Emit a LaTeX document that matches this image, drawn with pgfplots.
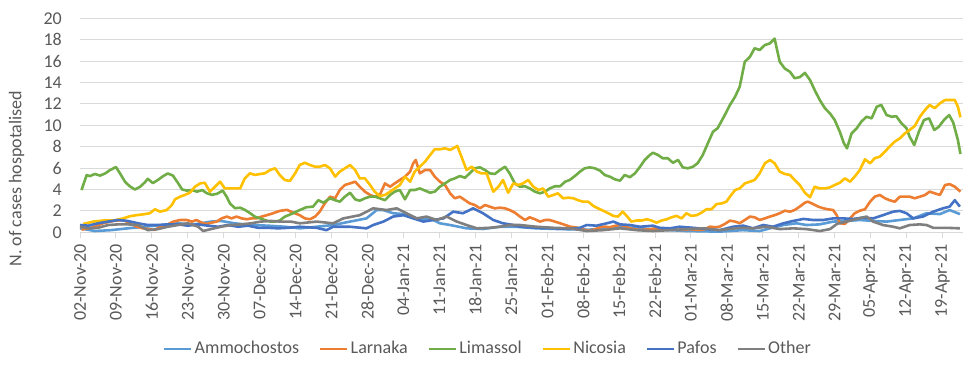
\documentclass[border=0pt]{standalone}
\usepackage{fontspec}
\setmainfont{Carlito}
\usepackage{pgfplots}
\pgfplotsset{compat=1.18}
\definecolor{cAmm}{HTML}{5B9BD5}
\definecolor{cLar}{HTML}{ED7D31}
\definecolor{cLim}{HTML}{70AD47}
\definecolor{cNic}{HTML}{FFC000}
\definecolor{cPaf}{HTML}{4472C4}
\definecolor{cOth}{HTML}{7F7F7F}
\definecolor{cGrid}{HTML}{D9D9D9}
\definecolor{cTxt}{HTML}{595959}
\newcommand{\cf}{\fontsize{18}{21.6}\selectfont}
\begin{document}
\cf
\begin{tikzpicture}
\useasboundingbox (-80pt,-139.7pt) rectangle (897pt,232.3pt);
\begin{axis}[
  at={(0pt,0pt)}, anchor=south west,
  scale only axis, width=883pt, height=214pt,
  xmin=0, xmax=172, ymin=0, ymax=20,
  axis x line*=bottom, axis y line*=left,
  y axis line style={draw=none},
  x axis line style={draw=cGrid, line width=0.9pt},
  ytick={0,2,...,20},
  ymajorgrids, grid style={cGrid, line width=0.9pt},
  tick align=outside, major tick length=6pt,
  ytick style={draw=none},
  xtick style={draw=cGrid, line width=0.9pt},
  xtick={0,7,...,168},
  xticklabels={02-Nov-20,09-Nov-20,16-Nov-20,23-Nov-20,30-Nov-20,07-Dec-20,14-Dec-20,21-Dec-20,28-Dec-20,04-Jan-21,11-Jan-21,18-Jan-21,25-Jan-21,01-Feb-21,08-Feb-21,15-Feb-21,22-Feb-21,01-Mar-21,08-Mar-21,15-Mar-21,22-Mar-21,29-Mar-21,05-Apr-21,12-Apr-21,19-Apr-21},
  xticklabel style={rotate=90, anchor=east, font=\cf, text=cTxt},
  yticklabel style={font=\cf, text=cTxt, xshift=-6pt},
  /pgf/number format/assume math mode=true,
  ylabel={N. of cases hospotalised},
  ylabel style={at={(axis description cs:-0.0717,0.251)}, anchor=center, font=\cf, text=cTxt},
  legend columns=6,
  legend style={at={(axis description cs:0.462,-0.545)}, anchor=center, draw=none, fill=none,
    font=\cf, text=cTxt,
    /tikz/every even column/.append style={column sep=18pt},
    nodes={inner sep=2pt}},
  legend image code/.code={\draw[#1, line width=2.6pt] (0pt,0pt) -- (27pt,0pt);},
  every axis plot/.append style={line width=2.6pt, line join=round, mark=none},
]
% Ammochostos
\addplot[cAmm] coordinates {
(0,0.37)(2.9,0.12)(6.0,0.2)(9.3,0.37)(12.6,0.52)(15.8,0.68)(19.1,0.84)(22.3,0.74)(25.5,1.0)(27.5,1.06)(30.1,0.84)(33.3,0.68)(36.6,0.62)(39.9,0.52)(42.8,0.37)(46.1,0.52)(49.3,0.68)(52.6,1.0)(55.8,1.3)(57.8,2.08)(59.1,2.08)(61.0,1.78)(63.0,1.7)(65.6,1.3)(68.8,1.15)(70.1,0.84)(72.1,0.68)(75.3,0.37)(78.5,0.31)(81.8,0.52)(85.0,0.52)(88.9,0.37)(93.5,0.3)(99.3,0.25)(105.2,0.5)(111.0,0.3)(118.1,0.12)(124.6,0.06)(129.1,0.2)(132.4,0.12)(134.4,0.37)(137.0,0.68)(139.6,0.84)(141.5,0.68)(144.1,0.74)(146.7,1.0)(149.3,1.06)(151.9,1.15)(154.5,1.06)(157.1,1.0)(159.7,1.15)(162.3,1.3)(164.9,1.78)(167.5,1.7)(169.4,2.08)(171.4,1.7)
};
\addlegendentry{Ammochostos}
% Larnaka
\addplot[cLar] coordinates {
(0.3,0.25)(2.6,0.47)(4.5,0.85)(6.5,1.06)(8.4,1.15)(9.7,0.85)(11.0,0.53)(12.3,0.37)(13.6,0.28)(14.6,0.22)(15.6,0.53)(16.9,0.69)(18.2,1.0)(19.5,1.15)(20.8,1.15)(21.8,1.0)(22.7,1.15)(23.7,0.9)(24.7,0.78)(25.6,0.9)(26.6,1.0)(27.6,1.3)(28.6,1.47)(29.5,1.3)(30.5,1.47)(31.5,1.3)(32.5,1.22)(33.4,1.3)(34.4,1.3)(35.4,1.47)(36.4,1.6)(37.6,1.78)(38.9,2.0)(40.3,2.1)(41.5,1.84)(42.8,1.6)(43.8,1.3)(44.8,1.22)(45.8,1.47)(46.7,1.93)(47.7,2.71)(48.7,3.33)(49.7,3.18)(50.6,3.95)(51.6,4.42)(52.6,4.57)(53.6,4.73)(54.5,4.26)(55.5,3.8)(56.5,3.49)(57.4,3.33)(58.4,3.49)(59.4,4.57)(60.4,4.26)(61.3,4.57)(62.3,4.89)(63.3,5.2)(64.3,5.67)(64.9,6.45)(65.4,6.76)(66.2,5.51)(67.2,5.82)(68.2,5.82)(69.1,5.2)(70.1,4.73)(71.1,4.42)(72.1,3.64)(73.0,3.18)(74.0,3.33)(75.0,3.0)(75.9,2.71)(76.9,2.55)(77.9,2.24)(78.9,2.55)(79.8,2.4)(80.8,2.24)(81.8,2.3)(82.8,2.24)(83.7,2.08)(84.7,1.84)(85.7,1.47)(86.7,1.15)(87.6,1.4)(88.6,1.22)(89.6,1.0)(90.6,1.15)(91.5,1.15)(92.5,1.0)(93.5,0.85)(94.5,0.69)(95.4,0.53)(96.4,0.47)(97.4,0.37)(98.3,0.22)(99.3,0.15)(100.3,0.28)(101.3,0.47)(102.2,0.53)(103.2,0.47)(104.2,0.6)(105.2,0.69)(106.1,0.6)(107.1,0.37)(108.1,0.28)(109.1,0.22)(111.0,0.28)(112.0,0.37)(112.9,0.28)(114.9,0.28)(116.8,0.22)(118.8,0.28)(120.7,0.22)(121.7,0.28)(122.7,0.53)(123.7,0.47)(124.6,0.53)(125.6,0.78)(126.6,1.09)(127.6,1.0)(128.5,0.85)(129.5,1.15)(130.5,1.47)(131.4,1.4)(132.4,1.15)(133.4,1.3)(134.4,1.47)(135.3,1.6)(136.3,1.78)(137.3,2.02)(138.3,1.93)(139.2,2.08)(140.2,2.4)(141.2,2.77)(141.8,2.86)(142.8,2.64)(143.8,2.4)(144.8,2.24)(145.7,2.15)(146.7,2.08)(147.4,1.6)(148.0,0.85)(149.0,0.78)(150.0,1.3)(150.9,1.78)(151.9,2.02)(152.9,2.15)(153.9,2.86)(154.8,3.33)(155.8,3.49)(156.8,3.18)(157.7,3.0)(158.7,2.86)(159.7,3.33)(160.7,3.33)(161.6,3.33)(162.6,3.18)(163.6,3.33)(164.6,3.49)(165.5,3.8)(166.5,3.64)(167.5,3.49)(168.5,4.42)(169.4,4.5)(170.4,4.26)(171.5,3.8)
};
\addlegendentry{Larnaka}
% Limassol
\addplot[cLim] coordinates {
(0.3,3.95)(1.3,5.35)(1.9,5.25)(2.9,5.45)(3.9,5.3)(4.9,5.5)(5.8,5.8)(7.0,6.1)(7.8,5.5)(8.8,4.7)(9.7,4.3)(10.7,4.0)(11.7,4.25)(12.7,4.7)(13.2,5.0)(14.2,4.6)(15.2,4.9)(16.2,5.25)(17.1,5.5)(18.1,5.3)(19.1,4.6)(19.9,4.0)(20.8,3.9)(21.8,3.95)(22.8,3.8)(23.8,3.95)(24.7,3.65)(25.7,3.5)(26.7,3.6)(27.8,3.9)(28.6,3.3)(29.2,2.7)(30.2,2.25)(31.2,2.3)(32.1,2.1)(33.1,1.8)(34.1,1.45)(35.1,1.3)(36.0,1.15)(37.0,1.0)(38.0,1.0)(38.9,1.1)(39.9,1.46)(41.5,1.78)(42.8,2.08)(44.1,2.34)(45.4,2.4)(46.4,3.0)(47.4,2.77)(48.7,3.18)(49.7,3.0)(50.6,2.86)(51.6,3.33)(52.6,3.7)(53.6,3.08)(54.5,2.95)(55.5,3.18)(56.5,3.33)(57.5,3.33)(58.4,3.18)(59.4,3.0)(60.4,3.49)(61.3,3.8)(62.3,3.95)(63.3,3.08)(64.3,3.95)(65.2,3.95)(66.2,4.1)(67.2,3.9)(68.2,3.7)(69.1,3.8)(70.1,4.26)(71.1,4.57)(72.1,4.89)(73.0,5.04)(74.0,5.26)(75.0,5.1)(75.9,5.51)(76.9,5.98)(77.9,6.07)(78.9,5.82)(79.8,5.51)(80.8,5.45)(81.8,5.82)(82.8,6.13)(83.7,5.5)(84.7,4.57)(85.7,4.26)(86.7,4.3)(87.6,4.1)(88.6,3.8)(89.6,3.64)(90.6,3.8)(91.5,4.1)(92.5,4.3)(93.5,4.3)(94.5,4.73)(95.4,4.89)(96.4,5.26)(97.4,5.67)(98.3,5.98)(99.3,6.07)(100.3,5.98)(101.3,5.76)(102.2,5.36)(103.2,5.2)(104.2,4.95)(105.2,4.83)(106.1,5.36)(107.1,5.15)(108.1,5.51)(109.1,6.13)(110.0,6.76)(111.0,7.22)(111.6,7.44)(112.6,7.22)(113.5,6.92)(114.5,6.92)(115.5,6.5)(116.5,6.76)(117.4,6.07)(118.4,5.98)(119.4,6.13)(120.3,6.45)(121.3,7.22)(122.3,8.32)(123.3,9.4)(124.2,9.72)(125.6,10.96)(126.6,11.9)(127.6,12.67)(128.5,13.6)(129.5,15.94)(130.5,16.4)(131.4,17.2)(132.4,17.04)(133.4,17.5)(134.4,17.66)(135.3,18.1)(136.3,15.94)(137.3,15.3)(138.3,15.0)(139.2,14.4)(140.2,14.5)(141.2,14.9)(142.2,14.23)(143.1,13.3)(144.1,12.36)(145.1,11.6)(146.1,11.1)(147.0,10.5)(148.0,9.4)(148.8,8.32)(149.4,7.85)(150.3,9.25)(151.3,9.72)(152.2,10.34)(153.2,10.8)(154.2,10.65)(155.2,11.74)(156.1,11.9)(157.1,10.96)(158.1,10.8)(159.0,10.85)(160.0,10.19)(161.0,9.72)(161.6,8.94)(162.5,8.16)(163.4,9.4)(164.4,10.5)(165.4,10.65)(166.4,9.56)(167.3,9.87)(168.3,10.5)(169.3,10.96)(170.1,10.25)(171.0,8.63)(171.5,7.32)
};
\addlegendentry{Limassol}
% Nicosia
\addplot[cNic] coordinates {
(0.6,0.78)(2.6,1.0)(4.5,1.1)(6.5,1.1)(8.4,1.3)(9.7,1.5)(11.0,1.6)(12.3,1.68)(13.6,1.78)(14.6,2.15)(15.6,1.93)(16.9,2.08)(17.9,2.55)(18.5,3.08)(19.5,3.33)(20.4,3.49)(21.4,3.7)(22.4,4.26)(23.4,4.57)(24.3,4.63)(25.3,3.8)(26.3,4.26)(27.3,4.73)(28.2,4.1)(29.2,4.1)(30.2,4.1)(31.2,4.1)(32.1,5.04)(33.1,5.51)(34.1,5.36)(35.1,5.45)(36.0,5.51)(37.0,5.82)(38.0,5.98)(38.9,5.36)(39.9,4.89)(40.9,4.8)(41.9,5.51)(42.8,6.29)(43.8,6.5)(44.8,6.29)(45.8,6.13)(46.7,6.13)(47.7,6.29)(48.7,5.98)(49.7,5.2)(50.6,5.67)(51.6,5.98)(52.6,6.29)(53.6,5.82)(54.5,5.04)(55.5,5.04)(56.5,4.42)(57.4,3.8)(58.4,3.39)(59.4,3.49)(60.4,3.8)(61.3,4.1)(62.3,4.42)(63.3,5.2)(64.3,4.73)(65.2,5.67)(66.2,6.13)(67.2,6.6)(68.2,7.22)(69.1,7.76)(70.1,7.76)(71.1,7.85)(72.1,7.7)(72.7,7.85)(73.5,8.07)(74.3,7.07)(75.3,5.82)(76.3,6.13)(77.3,5.67)(78.2,5.51)(79.2,5.51)(79.8,4.73)(80.5,3.8)(81.5,4.26)(82.4,4.89)(83.4,3.7)(84.4,4.57)(85.4,4.42)(86.3,4.57)(87.3,4.89)(88.3,4.26)(89.3,3.95)(90.2,4.1)(91.2,3.33)(92.2,3.49)(93.1,3.64)(94.1,3.18)(95.1,3.24)(96.1,3.18)(97.0,3.0)(98.0,2.86)(99.0,2.86)(100.0,2.46)(100.9,2.24)(101.9,2.02)(102.9,1.78)(103.9,1.53)(104.8,1.47)(105.7,1.93)(106.5,1.53)(107.4,1.0)(108.4,1.1)(109.4,1.1)(110.4,1.22)(111.3,1.1)(112.3,0.9)(113.3,1.1)(114.3,1.22)(115.2,1.4)(116.2,1.53)(117.2,1.3)(118.1,1.78)(119.1,1.53)(120.1,1.6)(121.1,1.84)(122.0,2.15)(123.0,2.15)(124.0,2.64)(125.0,2.7)(125.9,2.86)(126.6,3.33)(127.6,3.95)(128.5,4.1)(129.5,4.57)(130.5,4.73)(131.4,4.89)(132.4,5.51)(133.4,6.45)(134.4,6.76)(135.3,6.45)(136.3,5.67)(137.3,5.45)(138.3,5.36)(139.2,4.89)(140.2,4.42)(141.2,3.7)(142.2,3.27)(143.1,4.26)(144.1,4.1)(145.1,4.1)(146.1,4.2)(147.0,4.42)(148.0,4.63)(149.0,5.04)(150.0,4.73)(150.9,5.2)(151.9,5.82)(152.9,6.82)(153.9,6.45)(154.8,6.92)(155.8,7.07)(156.8,7.54)(157.7,8.01)(158.7,8.47)(159.7,8.78)(160.7,9.25)(161.6,9.56)(162.6,9.93)(163.6,10.8)(164.6,11.43)(165.5,11.9)(166.5,11.6)(167.5,12.05)(168.5,12.36)(169.4,12.36)(170.4,12.36)(171.0,11.74)(171.5,10.75)
};
\addlegendentry{Nicosia}
% Pafos
\addplot[cPaf] coordinates {
(0,0.68)(1.6,0.62)(3.5,0.84)(5.5,1.0)(7.4,1.15)(9.3,1.06)(11.3,0.84)(13.2,0.68)(15.2,0.68)(17.1,0.74)(19.1,0.74)(21.0,0.62)(23.0,0.74)(24.9,0.62)(26.9,0.52)(28.8,0.68)(30.8,0.52)(32.7,0.62)(34.7,0.42)(36.6,0.42)(38.6,0.37)(40.5,0.42)(42.8,0.52)(46.1,0.42)(48.0,0.2)(49.3,0.52)(52.6,0.52)(55.8,0.37)(57.1,0.68)(59.1,1.0)(61.0,1.47)(63.0,1.6)(64.9,1.3)(66.9,1.0)(68.8,1.15)(70.8,1.3)(72.7,1.93)(74.6,1.78)(76.6,2.24)(78.5,1.78)(80.5,1.15)(82.4,0.84)(84.4,0.68)(85.7,0.52)(88.9,0.42)(92.2,0.37)(95.4,0.31)(97.4,0.42)(98.7,0.68)(100.6,0.62)(102.6,0.84)(103.9,1.0)(105.2,0.74)(107.1,0.68)(109.1,0.52)(111.6,0.62)(112.9,0.42)(114.9,0.37)(116.8,0.52)(119.4,0.42)(122.0,0.31)(124.6,0.2)(127.2,0.52)(129.2,0.62)(131.1,0.37)(133.1,0.68)(135.0,0.52)(137.0,0.84)(138.9,1.06)(140.9,1.25)(142.8,1.15)(144.8,1.15)(146.7,1.3)(148.6,1.3)(150.6,1.25)(152.5,1.37)(154.5,1.3)(156.4,1.6)(158.4,1.93)(159.7,2.0)(161.0,1.78)(162.3,1.3)(164.2,1.47)(166.2,1.93)(168.1,2.24)(169.4,2.4)(170.4,3.0)(171.4,2.4)
};
\addlegendentry{Pafos}
% Other
\addplot[cOth] coordinates {
(0,0.52)(1.6,0.37)(3.5,0.42)(5.5,0.68)(7.4,0.74)(9.3,0.74)(11.3,0.68)(13.2,0.2)(15.2,0.3)(17.1,0.52)(19.1,0.68)(21.0,0.84)(23.0,0.52)(24.0,0.12)(25.5,0.3)(27.5,0.52)(29.4,0.68)(31.4,0.74)(33.3,0.84)(35.2,1.0)(37.2,1.06)(39.1,1.0)(41.1,1.0)(42.8,0.84)(46.1,1.0)(49.3,0.84)(51.3,1.3)(54.5,1.6)(57.1,2.24)(59.7,2.08)(61.7,2.24)(63.6,1.78)(65.6,1.3)(67.5,1.47)(69.5,1.15)(71.4,1.47)(73.4,1.0)(75.3,0.68)(77.3,0.37)(79.8,0.42)(81.8,0.52)(83.7,0.68)(85.7,0.68)(88.9,0.52)(92.2,0.42)(95.4,0.37)(98.7,0.12)(101.9,0.2)(105.2,0.37)(108.4,0.2)(111.6,0.12)(114.9,0.2)(118.1,0.3)(121.4,0.37)(124.6,0.2)(128.5,0.42)(131.1,0.37)(133.7,0.52)(136.3,0.3)(138.9,0.37)(141.5,0.3)(144.1,0.12)(146.1,0.3)(147.5,0.8)(149.3,1.0)(151.3,1.25)(153.2,1.47)(154.5,1.0)(156.4,0.68)(158.4,0.52)(159.7,0.37)(161.6,0.68)(163.6,0.74)(164.9,0.68)(166.2,0.42)(168.8,0.42)(171.4,0.37)
};
\addlegendentry{Other}
\end{axis}
\end{tikzpicture}
\end{document}
